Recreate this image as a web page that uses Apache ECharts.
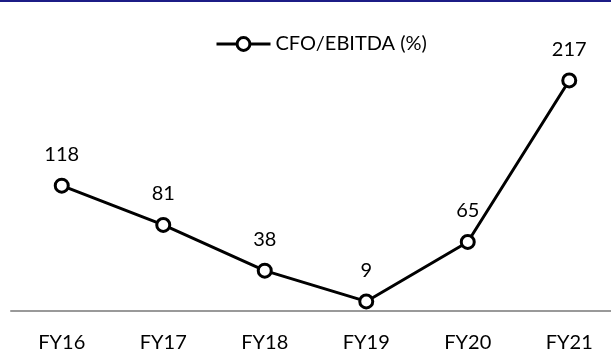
<!DOCTYPE html>
<html>
<head>
<meta charset="utf-8">
<script src="https://cdn.jsdelivr.net/npm/echarts@6/dist/echarts.min.js"></script>
<style>
  html, body { margin: 0; padding: 0; background: #fff; }
  #main { width: 611px; height: 350px; }
</style>
</head>
<body>
<div id="main"></div>
<script>
// data
const categories = ['FY16', 'FY17', 'FY18', 'FY19', 'FY20', 'FY21'];
const seriesName = 'CFO/EBITDA (%)';
const cfoEbitda = [118, 81, 38, 9, 65, 217];

const font = 'Lato, Liberation Sans, sans-serif';
const chart = echarts.init(document.getElementById('main'));
chart.setOption({
  animation: false,
  backgroundColor: '#fff',
  graphic: [{
    type: 'rect',
    shape: { x: 0, y: 0, width: 611, height: 2 },
    style: { fill: '#1c1c86' }
  }],
  legend: {
    top: 29,
    left: 210,
    itemWidth: 54,
    itemHeight: 16,
    itemGap: 4,
    lineStyle: { width: 3, color: '#000' },
    itemStyle: { borderWidth: 3, borderColor: '#000', color: '#fff' },
    textStyle: { fontFamily: font, fontSize: 20, color: '#000' },
    data: [seriesName]
  },
  grid: { left: 11, width: 609, top: 13.5, height: 297.5, outerBoundsMode: 'none', containLabel: false },
  xAxis: {
    type: 'category',
    data: categories,
    axisLine: { lineStyle: { color: '#999', width: 2 } },
    axisTick: { show: false },
    axisLabel: { fontFamily: font, fontSize: 20, color: '#000', margin: 22 }
  },
  yAxis: {
    type: 'value',
    min: 0,
    max: 280,
    show: false,
    splitLine: { show: false }
  },
  series: [{
    name: seriesName,
    type: 'line',
    data: cfoEbitda,
    symbol: 'circle',
    symbolSize: 13,
    lineStyle: { color: '#000', width: 3 },
    itemStyle: { color: '#fff', borderColor: '#000', borderWidth: 3 },
    label: {
      show: true,
      position: 'top',
      distance: 13,
      fontFamily: font,
      fontSize: 20,
      color: '#000'
    }
  }]
});
</script>
</body>
</html>
